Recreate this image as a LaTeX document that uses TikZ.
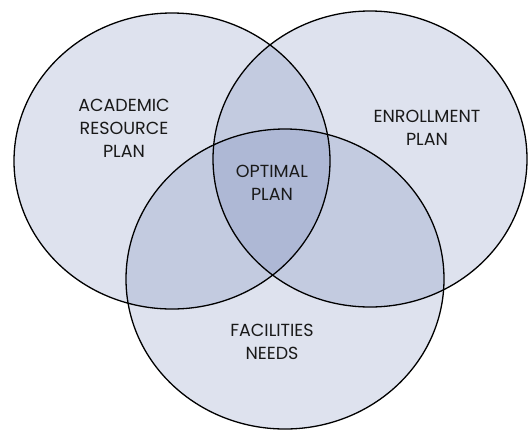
\documentclass[tikz,border=0pt]{standalone}
\usepackage{fontspec}
\setmainfont{Poppins}
\usepackage{tikz}
\definecolor{vennblue}{RGB}{90,110,170}

\begin{document}
\begin{tikzpicture}[x=1pt, y=-1pt,
				   set/.style={fill=vennblue, fill opacity=0.2},
				   rim/.style={draw=black, line width=1.3pt},
				   settext/.style={align=center, text=black!90, font=\fontsize{17.5}{23}\selectfont}]
\useasboundingbox (0,0) rectangle (532,432);
% the three sets
\fill[set] (172,161) ellipse [x radius=158, y radius=148];
\fill[set] (370,159) ellipse [x radius=157, y radius=148];
\fill[set] (285,279) ellipse [x radius=159, y radius=150];
\draw[rim] (172,161) ellipse [x radius=158, y radius=148];
\draw[rim] (370,159) ellipse [x radius=157, y radius=148];
\draw[rim] (285,279) ellipse [x radius=159, y radius=150];
% labels
\node[settext] (academic) at (124,128) {ACADEMIC\\RESOURCE\\PLAN};
\node[settext] (enroll) at (427,128) {ENROLLMENT\\PLAN};
\node[settext] (optimal) at (272,183) {OPTIMAL\\PLAN};
\node[settext] (facilities) at (272,342) {FACILITIES\\NEEDS};
\end{tikzpicture}
\end{document}
